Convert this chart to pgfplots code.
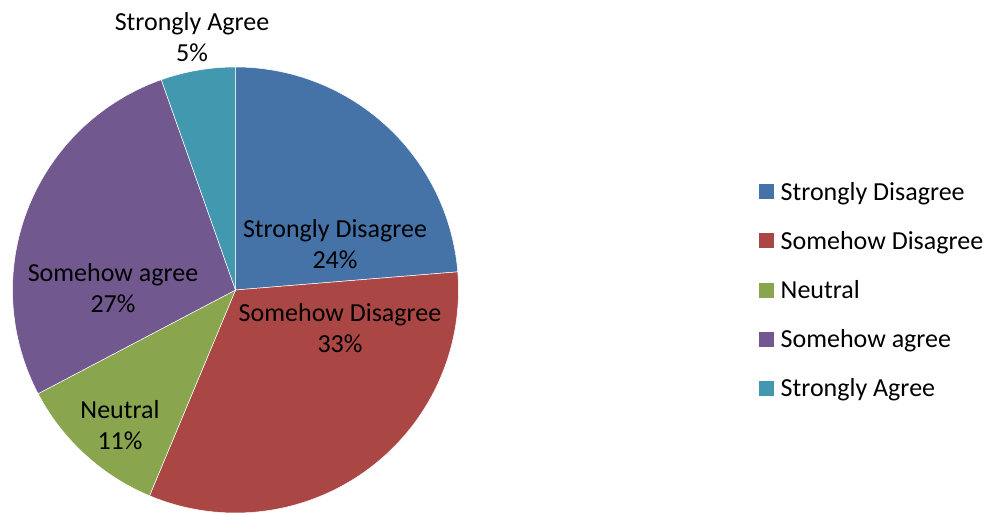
\documentclass[border=0pt]{standalone}
\usepackage{pgfplots}
\pgfplotsset{compat=1.18}
\usepackage{fontspec}
\setmainfont{Carlito}
\definecolor{cSD}{HTML}{4572A7}
\definecolor{cSoD}{HTML}{AA4643}
\definecolor{cN}{HTML}{89A54E}
\definecolor{cSA}{HTML}{71588F}
\definecolor{cStA}{HTML}{4198AF}
% slice values (percent), clockwise from the top
\def\vA{23.7}\def\vB{32.6}\def\vC{11.0}\def\vD{27.3}\def\vE{5.4}
\pgfmathsetmacro\aA{90}
\pgfmathsetmacro\aB{\aA-3.6*\vA}
\pgfmathsetmacro\aC{\aB-3.6*\vB}
\pgfmathsetmacro\aD{\aC-3.6*\vC}
\pgfmathsetmacro\aE{\aD-3.6*\vD}
\pgfmathsetmacro\aF{\aE-3.6*\vE}
\def\cx{235.5}\def\cy{224}\def\r{223}
\newcommand{\legtxt}[1]{\hspace{5bp}#1}
\begin{document}
\begin{tikzpicture}
\begin{axis}[
  width=1002bp, height=514bp, scale only axis,
  xmin=0, xmax=1002, ymin=0, ymax=514,
  hide axis, clip=false,
  legend cell align=left,
  legend style={draw=none, fill=none, at={(axis cs:759,224)}, anchor=west,
    font=\fontsize{26bp}{31bp}\selectfont, row sep=26.5bp, inner sep=0pt,
    nodes={inner sep=1.5bp}},
  legend image code/.code={\fill[#1, draw=none] (0bp,-7.5bp) rectangle (15bp,7.5bp);},
  every axis plot/.append style={draw=white, line width=0.5pt, samples=90, variable=\t},
]
\addplot[fill=cSD, domain=\aB:\aA] ({\cx+\r*cos(t)},{\cy+\r*sin(t)}) -- (axis cs:\cx,\cy) -- cycle;
\addlegendentry{\legtxt{Strongly Disagree}}
\addplot[fill=cSoD, domain=\aC:\aB] ({\cx+\r*cos(t)},{\cy+\r*sin(t)}) -- (axis cs:\cx,\cy) -- cycle;
\addlegendentry{\legtxt{Somehow Disagree}}
\addplot[fill=cN, domain=\aD:\aC] ({\cx+\r*cos(t)},{\cy+\r*sin(t)}) -- (axis cs:\cx,\cy) -- cycle;
\addlegendentry{\legtxt{Neutral}}
\addplot[fill=cSA, domain=\aE:\aD] ({\cx+\r*cos(t)},{\cy+\r*sin(t)}) -- (axis cs:\cx,\cy) -- cycle;
\addlegendentry{\legtxt{Somehow agree}}
\addplot[fill=cStA, domain=\aF:\aE] ({\cx+\r*cos(t)},{\cy+\r*sin(t)}) -- (axis cs:\cx,\cy) -- cycle;
\addlegendentry{\legtxt{Strongly Agree}}
\begin{scope}[every node/.style={align=center, inner sep=0pt, font=\fontsize{26bp}{31bp}\selectfont}]
\node at (axis cs:335,270) {Strongly Disagree\\24\%};
\node at (axis cs:340,185.5) {Somehow Disagree\\33\%};
\node at (axis cs:120,88.5) {Neutral\\11\%};
\node at (axis cs:113,225.5) {Somehow agree\\27\%};
\node at (axis cs:192,476.5) {Strongly Agree\\5\%};
\end{scope}
\end{axis}
\pgfresetboundingbox
\path[use as bounding box] (current axis.south west) rectangle (current axis.north east);
\end{tikzpicture}
\end{document}
